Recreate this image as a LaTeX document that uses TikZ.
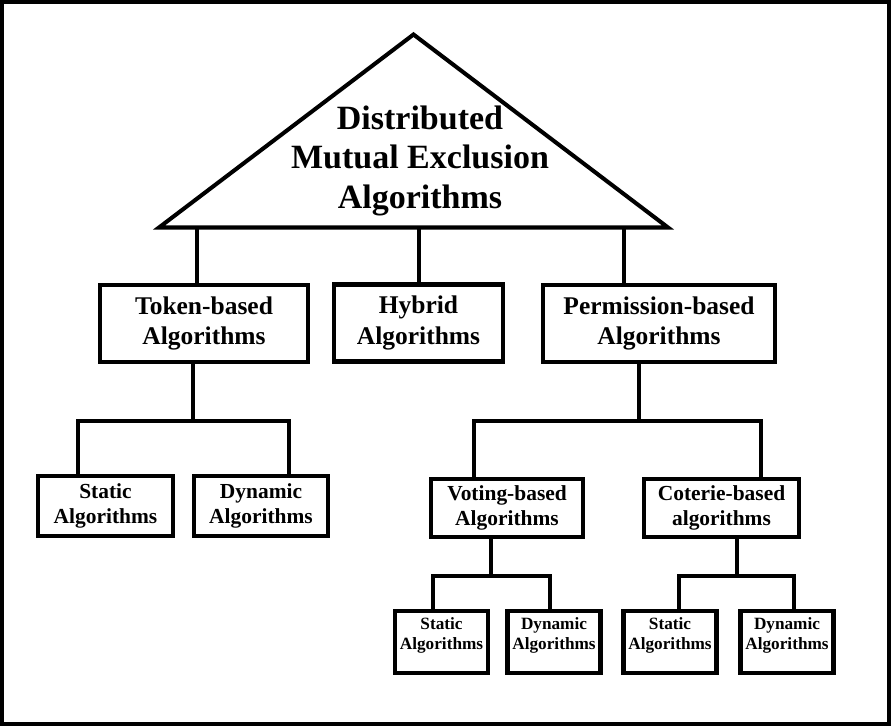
\documentclass[tikz,border=0pt]{standalone}
\usepackage{fontspec}
\setmainfont{Liberation Serif}

\tikzset{
    box/.style={draw, line width=2.4pt, inner sep=1pt, align=center},
    topbox/.style={box, minimum height=1.54cm,
        font=\fontsize{14.5}{17.6}\selectfont\bfseries},
    midbox/.style={box, minimum height=1.2cm,
        font=\fontsize{12.2}{14.2}\selectfont\bfseries},
    leafbox/.style={box, minimum width=1.86cm, minimum height=1.24cm, text depth=9.5pt,
        font=\fontsize{9.8}{11.4}\selectfont\bfseries},
    wire/.style={line width=2.3pt},
}

\begin{document}
\begin{tikzpicture}[x=0.02cm, y=-0.02cm]
    \useasboundingbox (0,0) rectangle (891,726);
    \draw[line width=2.3pt] (2,2) rectangle (889,724);

    % root
    \coordinate (apex) at (413.5,34.5);
    \coordinate (br) at (668,227.5);
    \coordinate (bl) at (159,227.5);
    \draw[wire] (apex) -- (br) -- (bl) -- cycle;
    \node[align=center, font=\fontsize{19.35}{22.5}\selectfont\bfseries] (dmea) at (420,160.5)
        {Distributed\\Mutual Exclusion\\Algorithms};

    % first level
    \node[topbox, minimum width=4.16cm] (tok) at (204,323.5) {Token-based\\Algorithms};
    \node[topbox, minimum width=3.38cm] (hyb) at (418.5,323) {Hybrid\\Algorithms};
    \node[topbox, minimum width=4.64cm] (per) at (659,323.5) {Permission-based\\Algorithms};

    \coordinate (c1) at (197,227.5);
    \coordinate (c2) at (419,227.5);
    \coordinate (c3) at (624,227.5);
    \draw[wire] (c1) -- (c1 |- tok.north);
    \draw[wire] (c2) -- (c2 |- hyb.north);
    \draw[wire] (c3) -- (c3 |- per.north);

    % token-based
    \node[midbox, minimum width=2.7cm] (sta) at (105.5,506) {Static\\Algorithms};
    \node[midbox, minimum width=2.68cm] (dyn) at (261,506) {Dynamic\\Algorithms};
    \coordinate (tj) at (193,421);
    \coordinate (tl) at (78,421);
    \coordinate (tr) at (289,421);
    \draw[wire] (tj |- tok.south) -- (tj);
    \draw[wire] (tl |- sta.north) -- (tl) -- (tr) -- (tr |- dyn.north);

    % permission-based
    \node[midbox, minimum width=3.04cm, minimum height=1.16cm] (vot) at (507,508) {Voting-based\\Algorithms};
    \node[midbox, minimum width=3.1cm, minimum height=1.16cm] (cot) at (721.5,508) {Coterie-based\\algorithms};
    \coordinate (pj) at (639,421);
    \coordinate (pl) at (474,421);
    \coordinate (pr) at (761,421);
    \draw[wire] (pj |- per.south) -- (pj);
    \draw[wire] (pl |- vot.north) -- (pl) -- (pr) -- (pr |- cot.north);

    % voting-based
    \node[leafbox] (vsta) at (441.5,642) {Static\\Algorithms};
    \node[leafbox] (vdyn) at (554,642) {Dynamic\\Algorithms};
    \coordinate (vj) at (491,576);
    \coordinate (vl) at (433,576);
    \coordinate (vr) at (550,576);
    \draw[wire] (vj |- vot.south) -- (vj);
    \draw[wire] (vl |- vsta.north) -- (vl) -- (vr) -- (vr |- vdyn.north);

    % coterie-based
    \node[leafbox] (csta) at (670,642) {Static\\Algorithms};
    \node[leafbox] (cdyn) at (787,642) {Dynamic\\Algorithms};
    \coordinate (cj) at (737,576);
    \coordinate (cl) at (679,576);
    \coordinate (cr) at (794,576);
    \draw[wire] (cj |- cot.south) -- (cj);
    \draw[wire] (cl |- csta.north) -- (cl) -- (cr) -- (cr |- cdyn.north);
\end{tikzpicture}
\end{document}
